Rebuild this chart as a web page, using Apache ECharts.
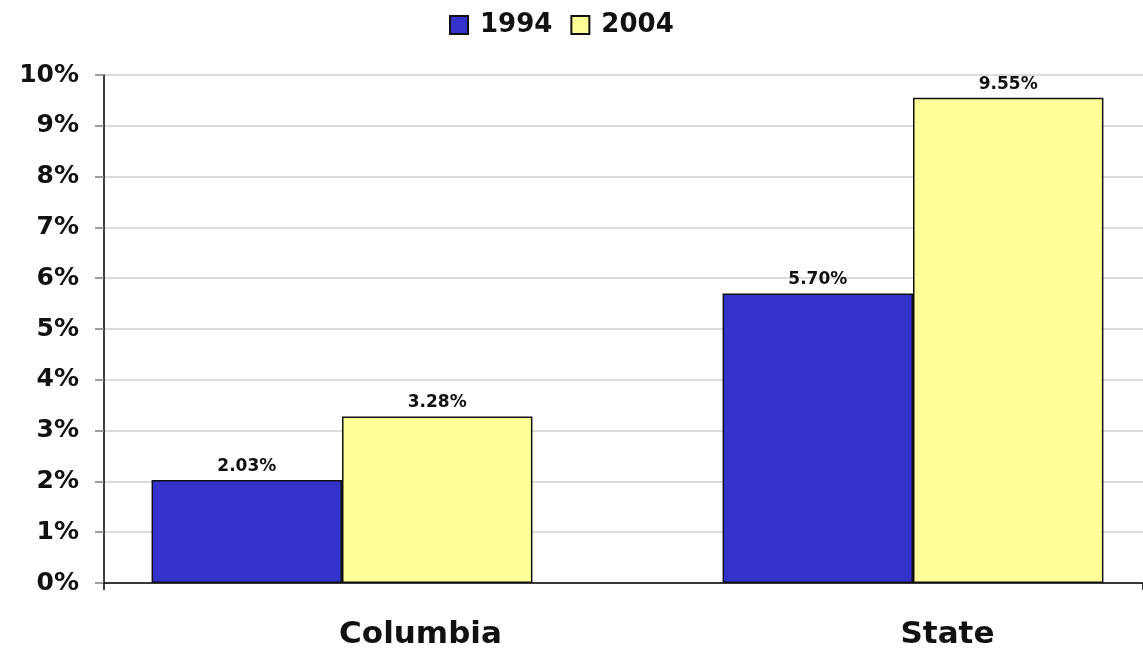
<!DOCTYPE html>
<html>
<head>
<meta charset="utf-8">
<title>Columbia vs State, 1994 and 2004</title>
<script src="https://cdn.jsdelivr.net/npm/echarts@6/dist/echarts.min.js"></script>
<style>
  html, body { margin: 0; padding: 0; background: #ffffff; }
  #chart { width: 1143px; height: 662px; }
</style>
</head>
<body>
<div id="chart"></div>
<script>
// Chart data
const categories = ['Columbia', 'State'];
const seriesNames = ['1994', '2004'];
const values1994 = [2.03, 5.70];
const values2004 = [3.28, 9.55];
const yTicks = [0, 1, 2, 3, 4, 5, 6, 7, 8, 9, 10];

const FONT = '"DejaVu Sans", Verdana, sans-serif';
const BLUE = '#3333CC';
const YELLOW = '#FFFF99';

const chart = echarts.init(document.getElementById('chart'), null, { renderer: 'canvas' });

const yMin = yTicks[0];
const yMax = yTicks[yTicks.length - 1];
const yStep = yTicks[1] - yTicks[0];

const valueLabel = {
  show: true,
  position: 'top',
  distance: 5,
  fontFamily: FONT,
  fontWeight: 'bold',
  fontSize: 17,
  color: '#111',
  formatter: p => p.value.toFixed(2) + '%'
};

const option = {
  animation: false,
  backgroundColor: '#ffffff',
  legend: {
    top: 7,
    left: 444,
    icon: 'rect',
    itemWidth: 18,
    itemHeight: 18,
    itemGap: 18,
    data: seriesNames,
    textStyle: {
      fontFamily: FONT,
      fontWeight: 'bold',
      fontSize: 26,
      color: '#111',
      padding: [0, 0, 0, 7]
    }
  },
  grid: [
    // frame: value axis, gridlines and baseline
    { left: 104, right: 0, top: 75, bottom: 79, outerBoundsMode: 'none' },
    // bars
    { left: 56.5, right: -55.5, top: 75, bottom: 79, outerBoundsMode: 'none' },
    // category names
    { left: 157, right: -68, top: 75, bottom: 79, outerBoundsMode: 'none' }
  ],
  xAxis: [
    {
      gridIndex: 0,
      type: 'category',
      data: categories,
      axisLine: { show: true, lineStyle: { color: '#000', width: 1.5 } },
      axisTick: { show: true, length: 7, interval: (i) => i === 0, lineStyle: { color: '#000', width: 1.5 } },
      axisLabel: { show: false },
      splitLine: { show: false }
    },
    {
      gridIndex: 1,
      type: 'category',
      data: categories,
      show: false
    },
    {
      gridIndex: 2,
      type: 'category',
      data: categories,
      axisLine: { show: false },
      axisTick: { show: false },
      axisLabel: {
        show: true,
        margin: 36,
        fontFamily: FONT,
        fontWeight: 'bold',
        fontSize: 31,
        color: '#111'
      }
    }
  ],
  yAxis: [
    {
      gridIndex: 0,
      type: 'value',
      min: yMin,
      max: yMax,
      interval: yStep,
      axisLine: { show: true, lineStyle: { color: '#000', width: 1.5 } },
      axisTick: { show: true, length: 9, lineStyle: { color: '#808080', width: 1.5 } },
      axisLabel: {
        margin: 25,
        fontFamily: FONT,
        fontWeight: 'bold',
        fontSize: 25,
        color: '#111',
        formatter: '{value}%'
      },
      splitLine: { show: true, lineStyle: { color: '#d0d0d0', width: 1.5 } }
    },
    { gridIndex: 1, type: 'value', min: yMin, max: yMax, interval: yStep, show: false, splitLine: { show: false } },
    { gridIndex: 2, type: 'value', min: yMin, max: yMax, interval: yStep, show: false, splitLine: { show: false } }
  ],
  series: [
    {
      name: seriesNames[0],
      type: 'bar',
      xAxisIndex: 1,
      yAxisIndex: 1,
      data: values1994,
      barGap: '0%',
      barCategoryGap: '33.3%',
      itemStyle: { color: BLUE, borderColor: '#111', borderWidth: 1.5 },
      label: valueLabel
    },
    {
      name: seriesNames[1],
      type: 'bar',
      xAxisIndex: 1,
      yAxisIndex: 1,
      data: values2004,
      barGap: '0%',
      barCategoryGap: '33.3%',
      itemStyle: { color: YELLOW, borderColor: '#111', borderWidth: 1.5 },
      label: valueLabel
    }
  ]
};

chart.setOption(option);
</script>
</body>
</html>
